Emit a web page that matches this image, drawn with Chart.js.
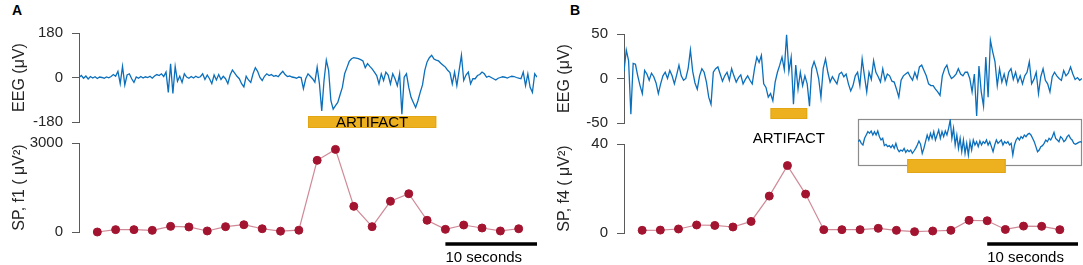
<!DOCTYPE html>
<html>
<head>
<meta charset="utf-8">
<script src="https://cdn.jsdelivr.net/npm/chart.js@4.4.1/dist/chart.umd.min.js"></script>
<style>
  html, body { margin: 0; padding: 0; background: #fff; }
  #page { position: relative; width: 1083px; height: 265px; overflow: hidden; font-family: 'Liberation Sans', Arial, sans-serif; }
  .panel { position: absolute; top: 0; height: 265px; }
  .panel canvas { position: absolute; left: 0; top: 0; }
  .tag { position: absolute; top: 3px; font-weight: bold; font-size: 14px; line-height: 14px; color: #000; }
</style>
</head>
<body>
<div id="page">
  <div class="tag" style="left:12px">A</div>
  <div class="tag" style="left:570px">B</div>
  <div class="panel" style="left:0;width:545px">
    <canvas id="eegA" width="545" height="265"></canvas>
    <canvas id="spA" width="545" height="265"></canvas>
  </div>
  <div class="panel" style="left:545px;width:538px">
    <canvas id="eegB" width="538" height="265"></canvas>
    <canvas id="spB" width="538" height="265"></canvas>
    <canvas id="insetB" width="538" height="265"></canvas>
  </div>
</div>
<script>
/* ── Data ─────────────────────────────────────────────────────── */

const DURATION = 50;          // seconds shown in each panel
const SP_STEP = 2;            // one spectral-power point every 2 s

// Panel A: raw EEG (µV), sampled every 0.25 s
const eegA = [
    0, 8, -3, 6, -6, 4, -2, 3, -4, 2, 0, -3, 2, -1, 4, 12, 5, 25, -25, 45,
    -30, 10, 15, -5, -20, 2, -3, 4, -2, 3, 0, 5, -3, 6, 12, 8, 15, 4, 22, -60,
    55, -65, 45, -15, 5, -20, 15, 2, -3, 4, -2, 5, 0, 3, 15, -8, 10, -5, -25, 10,
    -10, 12, -8, 5, -5, -25, 10, 30, 18, 5, -5, -25, -38, 5, -10, -20, 15, 40, 25, 0,
    -12, 5, 15, 8, 12, 5, 8, 3, 15, 25, 12, 4, 6, 2, 0, -3, 2, 0, -45, -5,
    15, 5, -5, -19, 42, -26, -135, -12, 70, 29, -94, -128, -114, -101, -70, -40, 15, 40, 65, 76,
    80, 78, 76, 72, 67, 40, 56, 45, 35, 22, 8, -26, 15, -12, 22, 10, -26, 15, -5, -33,
    15, -148, 1, 15, -40, -80, -101, -121, -94, -60, -30, 29, 63, 80, 90, 75, 70, 67, 58, 50,
    42, 29, 20, -26, 22, -33, 29, 90, -12, 10, 22, -26, -5, -5, 8, 12, 22, 15, 1, 5,
    0, -5, -10, -3, 0, 3, 1, -2, 2, 5, 4, 0, -3, -5, 22, -33, 15, -40, -60, 15, 1
];
// Panel A: spectral power, band f1 (µV²)
const spA = [0, 80, 80, 55, 190, 170, 35, 180, 245, 110, 28, 60,
             2415, 2785, 865, 180, 1035, 1290, 395, 90, 235, 135, 35, 110];
const artifactA = [25, 39];

// Panel B: raw EEG (µV), sampled every 0.25 s
const eegB = [
    8, 32, 20, -40, 17, 16, 3, -8, -17, 9, 5, -2, 6, 2, -5, -17, -6, 3, 7, 0,
    9, 3, -6, 4, 15, 3, -2, 0, 11, 32, 8, -5, -12, 3, 11, 7, -4, -21, -29, 7,
    11, 13, 5, -3, 3, 7, -2, 11, 3, -4, 1, 4, -6, -1, 3, -2, -6, 11, 24, 18,
    26, -6, -10, -21, -17, -25, -4, 7, 15, 24, 10, 49, 8, 24, -29, 15, -12, 7, -8, 3,
    -6, -31, 11, 19, 11, 0, -21, 11, 22, 7, -4, 2, -2, -6, 5, 7, 2, 5, -6, -14,
    -8, 3, 7, -8, 22, 3, -15, 7, -1, 20, 7, 2, -4, 11, -2, 5, 3, -3, -4, -12,
    -21, -2, 3, 5, 7, 2, -2, 7, 0, 13, 15, 9, 3, -6, -8, -8, -12, -15, -19, 3,
    11, 15, 5, 0, 2, 5, 11, 5, 3, 7, 7, 0, -15, 5, -42, 14, -15, -31, 24, -21,
    43, 30, 19, -8, 11, -4, 5, -6, 7, 11, -1, 7, -4, 3, -6, 3, 7, 19, -6, -1,
    7, -17, 2, 11, -2, -6, -15, 2, 7, 3, 0, -2, 9, 3, 6, 13, 5, -1, 1, -2, 0
];
// Panel B: spectral power, band f4 (µV²)
const spB = [1.2, 1.3, 1.8, 3.6, 3.4, 2.7, 5.2, 16.6, 30.3, 17.5, 1.5, 1.5,
             1.5, 2.1, 1.2, 0.6, 0.9, 1.2, 5.7, 5.5, 1.6, 3.1, 3.0, 1.5];
const artifactB = [16, 20];

// Panel B inset: zoomed EEG around the artifact
const insetWindow = [14, 23.1];
const insetEeg = [
    2.5, 5, 0, -2.5, 7.5, 12.5, 17.5, 15, 18.5, 12.5, 17.5, 12.5, 18.5, 10, 5, 7.5,
    -3.5, -1.5, -5, -3.5, -6.5, -2.5, -7.5, 0, -8.5, -12.5, -10, -11.5, -7.5, -13.5, -10, -12.5,
    -10, -15, -11.5, -7.5, -2.5, 3.5, -1.5, -15, -7.5, 2.5, 12.5, 5, 15, 7.5, 17.5, 5,
    12.5, 20, 7.5, 17.5, 10, 18.5, 12.5, 22.5, 35, 7.5, 22.5, -2.5, 12.5, -7.5, 7.5, -12.5,
    5, -15, 0, -17.5, 2.5, -10, 5, -2.5, 2.5, -5, 3.5, -2.5, 2.5, 0, 5, -2.5,
    2.5, -5, -12.5, -2.5, 5, 0, 2.5, 5, -2.5, 2.5, 0, 2.5, -2.5, 0, -17.5, -2.5,
    5, 8.5, 5, 10, 7.5, 12.5, 10, 13.5, 15, 12.5, 7.5, 2.5, -5, -12.5, -10, -5,
    -3.5, 0, 5, 2.5, 7.5, 5, 10, 16.5, 7.5, 5, 2.5, 10, 7.5, 2.5, 5, 10,
    12.5, 7.5, 5, 0, -1.5, 0, 1.5, 2.5, 1.5
];

const eegATicks = [-180, 0, 180];
const spATicks = [0, 3000];
const eegBTicks = [-50, 0, 50];
const spBTicks = [0, 40];

/* ── Styling ──────────────────────────────────────────────────── */

const FONT = "'Liberation Sans', Arial, Helvetica, sans-serif";
const TEXT = '#262626';
const AXIS = '#5a5a5a';
const EEG_BLUE = '#0b6fbb';
const SP_RED = '#A2142F';
const SP_LINE = 'rgba(162,20,47,0.5)';
const ORANGE = '#EDB120';
const AXIS_W = 79;

function timed(values, t0, t1) {
    const dt = (t1 - t0) / (values.length - 1);
    return values.map((v, i) => ({ x: t0 + i * dt, y: v }));
}

function spSeries(values) {
    return values.map((v, i) => ({ x: (i + 1) * SP_STEP, y: v }));
}

function yAxis(min, max, ticks, title) {
    return {
        min, max,
        afterBuildTicks: s => { s.ticks = ticks.map(v => ({ value: v })); },
        afterFit: s => { s.width = AXIS_W; },
        border: { display: true, color: AXIS, width: 1 },
        grid: { drawOnChartArea: false, drawTicks: true, tickLength: 7, color: AXIS },
        ticks: { color: TEXT, font: { family: FONT, size: 15 }, padding: 9, maxRotation: 0, callback: v => String(v) },
        title: { display: true, text: title, color: TEXT, font: { family: FONT, size: 16 }, padding: { top: 10, bottom: 0 } },
    };
}

/* ── Marks plugin: artifact band, scale bar, inset frame ──────── */

const marks = {
    id: 'marks',
    beforeDatasetsDraw(chart, args, o) {
        if (!o.frame) return;
        const { ctx, chartArea: a } = chart;
        ctx.save();
        ctx.fillStyle = '#fff';
        ctx.fillRect(a.left, a.top, a.width, a.height);
        ctx.strokeStyle = o.frame;
        ctx.lineWidth = 1.2;
        ctx.strokeRect(a.left + 0.5, a.top + 0.5, a.width - 1, a.height - 1);
        ctx.restore();
    },
    afterDatasetsDraw(chart, args, o) {
        const { ctx, chartArea: a, scales: { x } } = chart;
        ctx.save();
        if (o.band) {
            const b = o.band;
            const x0 = x.getPixelForValue(b.span[0]);
            const x1 = x.getPixelForValue(b.span[1]);
            const y0 = a.bottom + b.offset;
            ctx.fillStyle = ORANGE;
            ctx.fillRect(x0, y0, x1 - x0, b.height);
            ctx.strokeStyle = '#e2a514';
            ctx.lineWidth = 1;
            ctx.strokeRect(x0 + 0.5, y0 + 0.5, x1 - x0 - 1, b.height - 1);
            if (b.label) {
                ctx.fillStyle = '#000';
                ctx.font = `15px ${FONT}`;
                ctx.textAlign = 'center';
                ctx.textBaseline = 'alphabetic';
                ctx.fillText(b.label, (x0 + x1) / 2, y0 + b.labelDy);
            }
        }
        if (o.scaleBar) {
            const s = o.scaleBar;
            const x0 = x.getPixelForValue(s.span[0]);
            const x1 = x.getPixelForValue(s.span[1]);
            ctx.fillStyle = '#000';
            ctx.fillRect(x0, s.y - 1.75, x1 - x0, 3.5);
            ctx.font = `15px ${FONT}`;
            ctx.textAlign = 'left';
            ctx.textBaseline = 'alphabetic';
            ctx.fillText(s.label, x0, s.textY);
        }
        ctx.restore();
    },
};

function makeChart(id, { datasets, padding, y, xRange, marksOpts }) {
    return new Chart(document.getElementById(id), {
        type: 'line',
        data: { datasets },
        options: {
            responsive: false,
            animation: false,
            events: [],
            layout: { padding },
            scales: {
                x: { type: 'linear', min: xRange[0], max: xRange[1], display: false },
                y,
            },
            plugins: { legend: { display: false }, tooltip: { enabled: false }, marks: marksOpts || {} },
        },
        plugins: [marks],
    });
}

const eegLine = (values, t0, t1) => ({
    data: timed(values, t0, t1),
    borderColor: EEG_BLUE, borderWidth: 1.3, pointRadius: 0, tension: 0,
});

const spLine = (values) => ({
    data: spSeries(values),
    borderColor: SP_LINE, borderWidth: 1.2, tension: 0, clip: false,
    pointRadius: 4, pointBackgroundColor: SP_RED, pointBorderColor: SP_RED, pointBorderWidth: 1,
});

const scaleBar = { span: [DURATION - 10, DURATION], label: '10 seconds', y: 244, textY: 262 };

/* ── Panel A ──────────────────────────────────────────────────── */

makeChart('eegA', {
    datasets: [eegLine(eegA, 0, DURATION)],
    padding: { left: 0, right: 8, top: 33, bottom: 265 - 122 },
    y: yAxis(-180, 180, eegATicks, 'EEG (μV)'),
    xRange: [0, DURATION],
    marksOpts: { band: { span: artifactA, offset: -6, height: 12, label: 'ARTIFACT', labelDy: 11.3 } },
});

makeChart('spA', {
    datasets: [spLine(spA)],
    padding: { left: 0, right: 8, top: 143, bottom: 265 - 232 },
    y: yAxis(0, 3000, spATicks, 'SP, f1 ( μV²)'),
    xRange: [0, DURATION],
    marksOpts: { scaleBar },
});

/* ── Panel B ──────────────────────────────────────────────────── */

makeChart('eegB', {
    datasets: [eegLine(eegB, 0, DURATION)],
    padding: { left: 0, right: 1, top: 34, bottom: 265 - 123 },
    y: yAxis(-50, 50, eegBTicks, 'EEG (μV)'),
    xRange: [0, DURATION],
    marksOpts: { band: { span: artifactB, offset: -15, height: 11, label: 'ARTIFACT', labelDy: 34.5 } },
});

makeChart('spB', {
    datasets: [spLine(spB)],
    padding: { left: 0, right: 1, top: 144, bottom: 265 - 233 },
    y: yAxis(0, 40, spBTicks, 'SP, f4 ( μV²)'),
    xRange: [0, DURATION],
    marksOpts: { scaleBar },
});

makeChart('insetB', {
    datasets: [eegLine(insetEeg, insetWindow[0], insetWindow[1])],
    padding: { left: 858 - 545, right: 1, top: 119, bottom: 265 - 166 },
    y: { min: -34, max: 36.5, display: false },
    xRange: insetWindow,
    marksOpts: { frame: '#8c8c8c', band: { span: artifactB, offset: -7, height: 14 } },
});
</script>
</body>
</html>
